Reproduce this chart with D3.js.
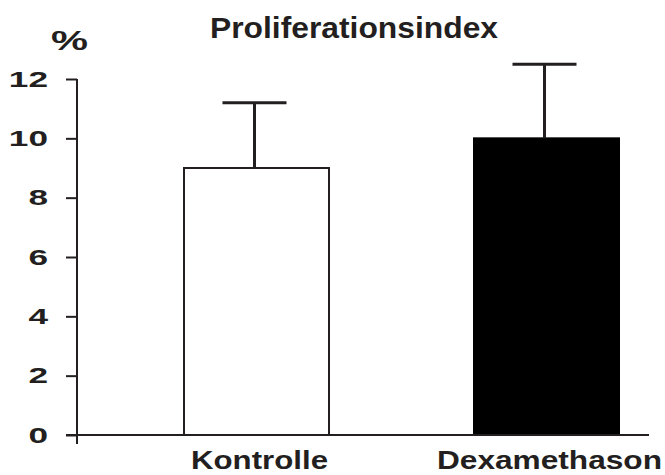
<!DOCTYPE html>
<html><head><meta charset="utf-8">
<script src="https://cdn.jsdelivr.net/npm/d3@7"></script>
<style>
body{margin:0;background:#fff}
svg text{font-family:"Liberation Sans",Arial,Helvetica,sans-serif;font-weight:bold;fill:#231f20}
</style>
</head><body><svg id="c" width="665" height="475"></svg>
<script>
// ---- data ----
const categories = ["Kontrolle", "Dexamethason"];
const means = [9, 10];
const errors = [2.2, 2.5];
const tickValues = [0, 2, 4, 6, 8, 10, 12];
const tickLabels = ["0", "2", "4", "6", "8", "10", "12"];
const fills = ["#ffffff", "#000000"];
const title = "Proliferationsindex";
const yUnit = "%";

// ---- layout ----
const ink = "#231f20";
const svg = d3.select("#c");
const axisX = 77, baseY = 435, topY = 79;

const x = d3.scaleBand().domain(categories).range([184, 619])
  .paddingInner(0.5).paddingOuter(0);
const y = d3.scaleLinear().domain([0, 12]).range([baseY, topY]);

const data = categories.map((c, i) => ({ c, m: means[i], e: errors[i], f: fills[i] }));

// bars
svg.append("g").selectAll("rect").data(data).join("rect")
  .attr("x", d => x(d.c))
  .attr("y", d => y(d.m))
  .attr("width", x.bandwidth())
  .attr("height", d => y(0) - y(d.m))
  .attr("fill", d => d.f)
  .attr("stroke", d => d.f === "#000000" ? "#000" : ink)
  .attr("stroke-width", 2);

// error bars
const eb = svg.append("g").attr("stroke", ink).attr("stroke-width", 3);
eb.selectAll("line.v").data(data).join("line").attr("class", "v")
  .attr("x1", d => x(d.c) + x.bandwidth() / 2 - 2)
  .attr("x2", d => x(d.c) + x.bandwidth() / 2 - 2)
  .attr("y1", d => y(d.m))
  .attr("y2", d => y(d.m + d.e));
eb.selectAll("line.h").data(data).join("line").attr("class", "h")
  .attr("x1", d => x(d.c) + x.bandwidth() / 2 - 2 - 32)
  .attr("x2", d => x(d.c) + x.bandwidth() / 2 - 2 + 32)
  .attr("y1", d => y(d.m + d.e))
  .attr("y2", d => y(d.m + d.e));

// y axis
const yAxis = d3.axisLeft(y).tickValues(tickValues)
  .tickFormat((d, i) => tickLabels[i]).tickSize(11).tickSizeOuter(0).tickPadding(0);
const gy = svg.append("g").attr("transform", `translate(${axisX},0)`).call(yAxis);
gy.select(".domain").remove();
gy.selectAll(".tick line").attr("stroke", ink).attr("stroke-width", 2);
gy.selectAll(".tick text")
  .attr("x", 0)
  .attr("dy", "0.32em")
  .attr("transform", "translate(-29,0) scale(1.6,1)")
  .style("font-size", "22px")
  .attr("fill", ink);
// vertical axis line (extends a bit below 0)
svg.append("line")
  .attr("x1", axisX).attr("x2", axisX)
  .attr("y1", y(12)).attr("y2", y(0) + 9)
  .attr("stroke", ink).attr("stroke-width", 2);
// horizontal axis line
svg.append("line")
  .attr("x1", axisX - 11).attr("x2", x.range()[1] + 30)
  .attr("y1", y(0)).attr("y2", y(0))
  .attr("stroke", ink).attr("stroke-width", 2);

// category labels
const labelLen = [137, 225];
svg.append("g").selectAll("text").data(data).join("text")
  .attr("x", d => x(d.c) + x.bandwidth() / 2 + 3)
  .attr("y", 469)
  .attr("text-anchor", "middle")
  .style("font-size", "26px")
  .attr("textLength", (d, i) => labelLen[i])
  .attr("lengthAdjust", "spacingAndGlyphs")
  .text(d => d.c);

// title
svg.append("text")
  .attr("x", 210).attr("y", 37.5)
  .style("font-size", "29px")
  .attr("textLength", 288)
  .attr("lengthAdjust", "spacingAndGlyphs")
  .text(title);

// unit label
svg.append("text")
  .attr("x", 51).attr("y", 49.5)
  .style("font-size", "27px")
  .attr("textLength", 37)
  .attr("lengthAdjust", "spacingAndGlyphs")
  .text(yUnit);
</script>
</body></html>
